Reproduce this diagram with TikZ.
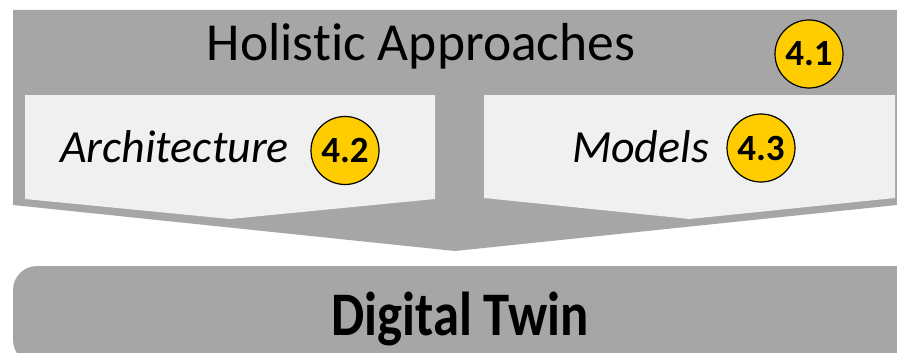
\documentclass[tikz,border=0pt]{standalone}
\usepackage{fontspec}
\setmainfont{Carlito}[Ligatures=CommonOff]
\definecolor{greyA}{HTML}{A6A6A6}
\definecolor{lightA}{HTML}{F0F0F0}
\definecolor{goldA}{HTML}{FFCC00}
\begin{document}
\begin{tikzpicture}[x=1pt,y=-1pt,
  badge/.style={circle,draw=black,line width=1.2pt,fill=goldA,minimum size=68pt,inner sep=0pt,
    font=\fontsize{37}{40}\selectfont\bfseries},
  boxtext/.style={anchor=base,font=\fontsize{46}{50}\selectfont\itshape},
]
\useasboundingbox (0,0) rectangle (897,353);
\clip (0,0) rectangle (897,353);
% big chevron
\fill[greyA] (13,10) -- (897,10) -- (897,205) -- (455,251) -- (13,205) -- cycle;
% inner chevrons
\fill[lightA] (25,95) -- (435,95) -- (435,199) -- (230,219) -- (25,199) -- cycle;
\fill[lightA] (484,95) -- (895,95) -- (895,198) -- (689.5,219) -- (484,198) -- cycle;
% bottom box
\fill[greyA,rounded corners=24pt] (13,266) rectangle (921,364);
% texts
\node[anchor=base,font=\fontsize{53.5}{58}\selectfont] (hol) at (421,60) {Holistic Approaches};
\node[boxtext] (arch) at (174.5,162) {Architecture};
\node[boxtext] (mod) at (640.5,162) {Models};
\node[anchor=base,font=\fontsize{62}{68}\selectfont\bfseries] (dt) at (460,335) {\scalebox{0.85}[1]{Digital Twin}};
\node[badge] (b41) at (809,54) {4.1};
\node[badge] (b42) at (345,150.5) {4.2};
\node[badge] (b43) at (761,148) {4.3};
\end{tikzpicture}
\end{document}
